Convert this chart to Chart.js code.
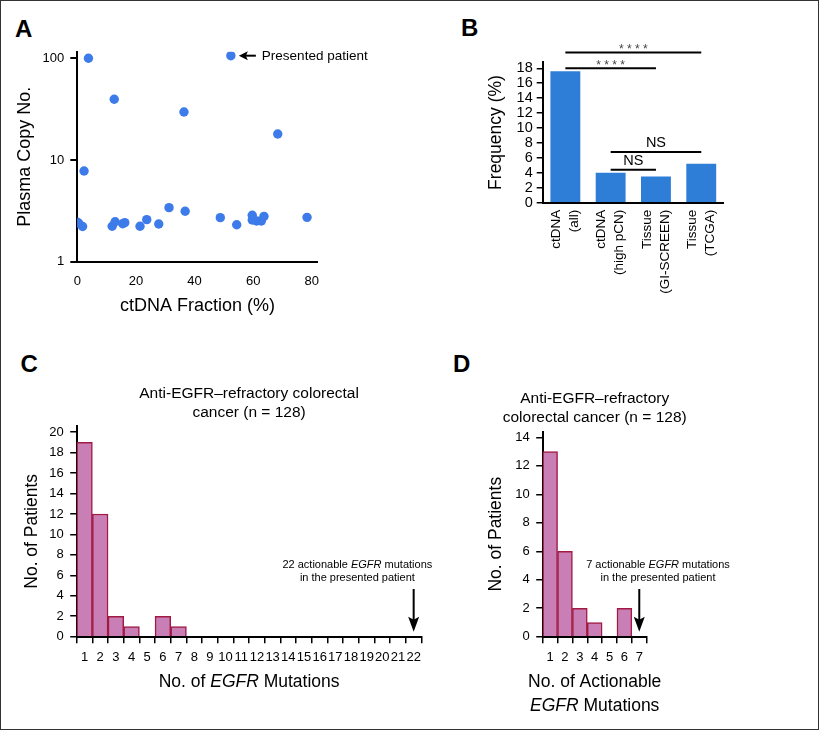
<!DOCTYPE html>
<html lang="en">
<head>
    <meta charset="UTF-8">
    <title>EGFR alterations in ctDNA</title>
    <script src="https://cdn.jsdelivr.net/npm/chart.js"></script>
    <style>
        body {
            margin: 0;
            background: #fff;
            font-family: "Liberation Sans", Arial, sans-serif;
        }

        #figure {
            position: relative;
            width: 821px;
            height: 731px;
            overflow: hidden;
            background: #fff;
        }

        #frame {
            position: absolute;
            left: 0;
            top: 0;
            width: 819px;
            height: 730px;
            border: 1.5px solid #333;
            box-sizing: border-box;
        }

        canvas {
            position: absolute;
        }

        .letter {
            position: absolute;
            font-weight: bold;
            font-size: 24px;
            line-height: 24px;
            color: #000;
        }
    </style>
</head>
<body>
<div id="figure">
    <div id="frame"></div>
    <div class="letter" style="left:15px;top:16.6px">A</div>
    <div class="letter" style="left:461px;top:15.5px">B</div>
    <div class="letter" style="left:20.5px;top:352.3px">C</div>
    <div class="letter" style="left:453px;top:352.3px">D</div>

    <canvas id="chartA" width="400" height="330" style="left:0;top:0"></canvas>
    <canvas id="chartB" width="400" height="300" style="left:400px;top:0"></canvas>
    <canvas id="chartC" width="460" height="345" style="left:0;top:380px"></canvas>
    <canvas id="chartD" width="340" height="345" style="left:470px;top:380px"></canvas>
</div>

<script>
    // Panel A: ctDNA fraction vs plasma copy number
    const ctdnaFraction = [0, 0.5, 1.8, 2.3, 3.8, 11.9, 12.6, 12.9, 15.5, 16.2, 21.4, 23.7, 27.8, 31.3,
        36.4, 36.8, 48.8, 52.4, 54.4, 59.7, 59.7, 61.2, 62.8, 63.7, 68.4, 78.4];
    const plasmaCopyNo = [2.45, 2.38, 2.22, 7.8, 100, 2.23, 39.5, 2.47, 2.36, 2.42, 2.23, 2.59, 2.35, 3.4,
        29.6, 3.13, 2.71, 106, 2.31, 2.86, 2.57, 2.51, 2.51, 2.79, 18.0, 2.73];
    const presentedIndex = 17;
    const copyTicks = [1, 10, 100];

    // Panel B: frequency by cohort
    const cohortLabels = [['ctDNA', '(all)'], ['ctDNA', '(high pCN)'], ['Tissue', '(GI-SCREEN)'], ['Tissue', '(TCGA)']];
    const frequencyPct = [17.6, 4.0, 3.5, 5.2];
    const compareFrom = [0, 0, 1, 1];
    const compareTo = [3, 2, 3, 2];
    const compareAt = [20.1, 18.0, 6.8, 4.4];
    const compareLabel = ['****', '****', 'NS', 'NS'];

    // Panel C: EGFR mutations per patient
    const mutationBins = ['1', '2', '3', '4', '5', '6', '7', '8', '9', '10', '11', '12', '13', '14', '15',
        '16', '17', '18', '19', '20', '21', '22'];
    const patientsByMutations = [19, 12, 2, 1, 0, 2, 1, 0, 0, 0, 0, 0, 0, 0, 0, 0, 0, 0, 0, 0, 0, 0];
    const presentedMutations = 22;

    // Panel D: actionable EGFR mutations per patient
    const actionableBins = ['1', '2', '3', '4', '5', '6', '7'];
    const patientsByActionable = [13, 6, 2, 1, 0, 2, 0];
    const presentedActionable = 7;

    const FAMILY = '"Liberation Sans", Arial, sans-serif';
    const DOT_BLUE = '#3d7bea';
    const BAR_BLUE = '#2e7ed8';
    const HIST_FILL = '#c97fb6';
    const HIST_LINE = '#a01a42';

    Chart.defaults.font.family = FAMILY;
    Chart.defaults.color = '#000';

    function font(size, style) {
        return (style || 'normal') + ' ' + size + 'px ' + FAMILY;
    }

    // draw a line of text made of plain / italic pieces, centered on cx
    function drawRuns(ctx, runs, cx, cy, size) {
        let total = 0;
        const widths = runs.map(([t, it]) => {
            ctx.font = font(size, it ? 'italic' : 'normal');
            const w = ctx.measureText(t).width;
            total += w;
            return w;
        });
        let x = cx - total / 2;
        ctx.textAlign = 'left';
        ctx.textBaseline = 'middle';
        runs.forEach(([t, it], i) => {
            ctx.font = font(size, it ? 'italic' : 'normal');
            ctx.fillText(t, x, cy);
            x += widths[i];
        });
    }

    function arrowDown(ctx, x, yTop, yTip) {
        ctx.strokeStyle = '#000';
        ctx.fillStyle = '#000';
        ctx.lineWidth = 2;
        ctx.beginPath();
        ctx.moveTo(x, yTop);
        ctx.lineTo(x, yTip - 10);
        ctx.stroke();
        ctx.beginPath();
        ctx.moveTo(x, yTip);
        ctx.lineTo(x - 5.5, yTip - 15);
        ctx.lineTo(x, yTip - 12);
        ctx.lineTo(x + 5.5, yTip - 15);
        ctx.closePath();
        ctx.fill();
    }

    const noPlugins = { legend: { display: false }, tooltip: { enabled: false } };

    // ---------- A ----------
    const notesA = {
        id: 'notesA',
        afterDraw(chart) {
            const ctx = chart.ctx;
            const px = chart.scales.x.getPixelForValue(ctdnaFraction[presentedIndex]);
            const py = chart.scales.y.getPixelForValue(plasmaCopyNo[presentedIndex]);
            ctx.save();
            ctx.fillStyle = '#000';
            ctx.strokeStyle = '#000';
            ctx.lineWidth = 2;
            ctx.beginPath();
            ctx.moveTo(px + 14, py);
            ctx.lineTo(px + 25, py);
            ctx.stroke();
            ctx.beginPath();
            ctx.moveTo(px + 8, py);
            ctx.lineTo(px + 17, py - 4.5);
            ctx.lineTo(px + 15, py);
            ctx.lineTo(px + 17, py + 4.5);
            ctx.closePath();
            ctx.fill();
            ctx.font = font(13.5);
            ctx.textAlign = 'left';
            ctx.textBaseline = 'middle';
            ctx.fillText('Presented patient', px + 31, py + 0.5);
            ctx.restore();
        }
    };

    new Chart(document.getElementById('chartA'), {
        type: 'scatter',
        data: {
            datasets: [{
                data: ctdnaFraction.map((x, i) => ({ x: x, y: plasmaCopyNo[i] })),
                backgroundColor: DOT_BLUE,
                borderWidth: 0,
                pointRadius: 4.7
            }]
        },
        options: {
            responsive: false,
            animation: false,
            layout: { padding: { left: 0, top: 51.7, right: 82.4, bottom: 0 } },
            plugins: noPlugins,
            scales: {
                x: {
                    type: 'linear', min: 0, max: 82,
                    ticks: { stepSize: 20, includeBounds: false, autoSkip: false, font: { size: 13 }, padding: 12 },
                    grid: { display: false, drawTicks: false },
                    border: { color: '#000', width: 2 },
                    title: { display: true, text: 'ctDNA Fraction (%)', font: { size: 18 }, padding: { top: 0, bottom: 13.5 } },
                    afterFit: s => { s.height = 68.3; }
                },
                y: {
                    type: 'logarithmic', min: 1, max: 116,
                    afterBuildTicks: s => { s.ticks = copyTicks.map(v => ({ value: v })); },
                    ticks: { callback: v => String(v), autoSkip: false, font: { size: 13 }, padding: 6 },
                    grid: { drawOnChartArea: false, tickLength: 7, color: '#000', lineWidth: 2 },
                    border: { color: '#000', width: 2 },
                    title: { display: true, text: 'Plasma Copy No.', font: { size: 18 }, padding: { top: 14, bottom: 0 } },
                    afterFit: s => { s.width = 77.3; }
                }
            }
        },
        plugins: [notesA]
    });

    // ---------- B ----------
    const notesB = {
        id: 'notesB',
        afterDraw(chart) {
            const ctx = chart.ctx, xs = chart.scales.x, ys = chart.scales.y;
            ctx.save();
            ctx.strokeStyle = '#000';
            ctx.lineWidth = 2;
            ctx.textAlign = 'center';
            compareFrom.forEach((a, i) => {
                const x0 = xs.getPixelForValue(a);
                const x1 = xs.getPixelForValue(compareTo[i]);
                const y = ys.getPixelForValue(compareAt[i]);
                ctx.beginPath();
                ctx.moveTo(x0, y);
                ctx.lineTo(x1, y);
                ctx.stroke();
                if (compareLabel[i].startsWith('*')) {
                    ctx.font = font(12);
                    ctx.fillStyle = '#444';
                    ctx.textBaseline = 'alphabetic';
                    ctx.fillText(compareLabel[i].split('').join(' '), (x0 + x1) / 2, y + 0.5);
                } else {
                    ctx.font = font(14.5);
                    ctx.fillStyle = '#000';
                    ctx.textBaseline = 'middle';
                    ctx.fillText(compareLabel[i], (x0 + x1) / 2, y - 8.5);
                }
            });
            ctx.restore();
        }
    };

    new Chart(document.getElementById('chartB'), {
        type: 'bar',
        data: {
            labels: cohortLabels,
            datasets: [{ data: frequencyPct, backgroundColor: BAR_BLUE, barPercentage: 0.66, categoryPercentage: 1 }]
        },
        options: {
            responsive: false,
            animation: false,
            layout: { padding: { left: 0, top: 62.3, right: 76.1, bottom: 0 } },
            plugins: noPlugins,
            scales: {
                x: {
                    ticks: {
                        minRotation: 90, maxRotation: 90, autoSkip: false, labelOffset: -9, padding: 7,
                        font: { size: 13.5, lineHeight: '18px' }
                    },
                    grid: { display: false, drawTicks: false },
                    border: { color: '#000', width: 2 },
                    afterFit: s => { s.height = 97.3; }
                },
                y: {
                    min: 0, max: 18.8,
                    ticks: { stepSize: 2, includeBounds: false, autoSkip: false, font: { size: 14.5 }, padding: 4 },
                    grid: { drawOnChartArea: false, tickLength: 6, color: '#000', lineWidth: 1.5 },
                    border: { color: '#000', width: 2 },
                    title: { display: true, text: 'Frequency (%)', font: { size: 17.5 }, padding: { top: 86, bottom: 0 } },
                    afterFit: s => { s.width = 142.7; }
                }
            }
        },
        plugins: [notesB]
    });

    // ---------- C and D ----------
    function drawHistNotes(chart, presented, g) {
        const ctx = chart.ctx, area = chart.chartArea;
        const ax = chart.scales.x.getPixelForValue(presented - 1);
        const cx = (area.left + area.right) / 2;
        ctx.save();
        ctx.fillStyle = '#000';
        ctx.textAlign = 'center';
        ctx.textBaseline = 'middle';
        ctx.font = font(15.5);
        g.title.forEach((line, i) => ctx.fillText(line, cx, area.top - 32.5 + 19 * i));
        arrowDown(ctx, ax, area.bottom - 47.7, area.bottom - 5);
        ctx.fillStyle = '#000';
        const note = [
            [[presented + ' actionable ', false], ['EGFR', true], [' mutations', false]],
            [['in the presented patient', false]]
        ];
        note.forEach((runs, i) => drawRuns(ctx, runs, ax + g.noteDx, area.bottom - 71.7 + 13.3 * i, 11));
        g.xTitle.forEach((runs, i) => drawRuns(ctx, runs, cx, area.bottom + 45 + 24 * i, 17.5));
        ctx.restore();
    }

    function makeHistogram(id, bins, counts, presented, g) {
        return new Chart(document.getElementById(id), {
            type: 'bar',
            data: {
                labels: bins,
                datasets: [{
                    data: counts,
                    backgroundColor: HIST_FILL,
                    borderColor: HIST_LINE,
                    borderWidth: 1.5,
                    barPercentage: 1,
                    categoryPercentage: 1
                }]
            },
            options: {
                responsive: false,
                animation: false,
                layout: { padding: { left: 0, top: g.top, right: g.right, bottom: 0 } },
                plugins: noPlugins,
                scales: {
                    x: {
                        ticks: { autoSkip: false, maxRotation: 0, minRotation: 0, padding: 6.5, font: { size: 13 } },
                        grid: { offset: true, drawOnChartArea: false, tickLength: 6.5, color: '#000', lineWidth: 1.5 },
                        border: { color: '#000', width: 2 },
                        afterFit: s => { s.height = g.xHeight; }
                    },
                    y: {
                        min: 0, max: g.yMax,
                        ticks: { stepSize: 2, includeBounds: false, autoSkip: false, padding: 6.5, font: { size: 13 } },
                        grid: { drawOnChartArea: false, tickLength: 6.5, color: '#000', lineWidth: 1.5 },
                        border: { color: '#000', width: 2 },
                        title: { display: true, text: 'No. of Patients', font: { size: 17.5 }, padding: { top: g.yTitlePad, bottom: 0 } },
                        afterFit: s => { s.width = g.yWidth; }
                    }
                }
            },
            plugins: [{ id: 'notes' + id, afterDraw: chart => drawHistNotes(chart, presented, g) }]
        });
    }

    makeHistogram('chartC', mutationBins, patientsByMutations, presentedMutations, {
        top: 46, right: 38.5, xHeight: 88.3, yMax: 20.6, yWidth: 76.7, yTitlePad: 21.2, noteDx: -56.3,
        title: ['Anti-EGFR\u2013refractory colorectal', 'cancer (n = 128)'],
        xTitle: [[['No. of ', false], ['EGFR', true], [' Mutations', false]]]
    });

    makeHistogram('chartD', actionableBins, patientsByActionable, presentedActionable, {
        top: 51.7, right: 163.3, xHeight: 88.3, yMax: 14.4, yWidth: 72.7, yTitlePad: 15.5, noteDx: 18.7,
        title: ['Anti-EGFR\u2013refractory', 'colorectal cancer (n = 128)'],
        xTitle: [[['No. of Actionable', false]], [['EGFR', true], [' Mutations', false]]]
    });
</script>
</body>
</html>
